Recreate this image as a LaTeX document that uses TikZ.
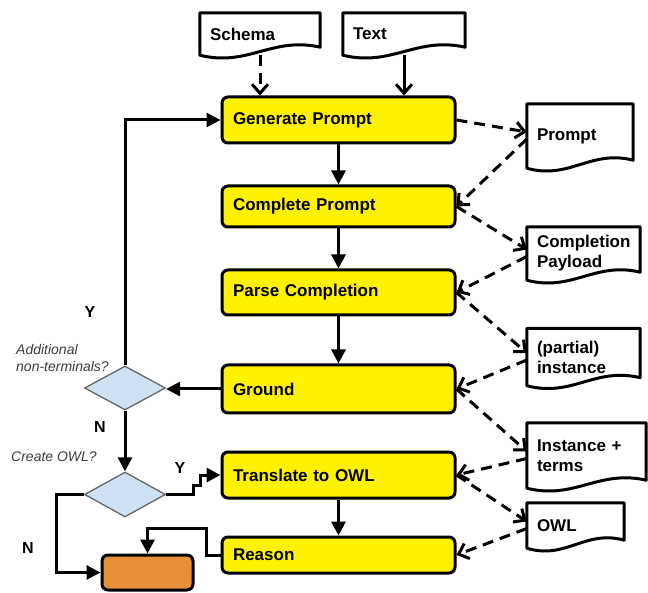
\documentclass[tikz,border=0pt]{standalone}
\usepackage{fontspec}
\setmainfont{Liberation Sans}
\usetikzlibrary{shapes.geometric,arrows.meta,calc}
\definecolor{decblue}{HTML}{CFE2F3}
\definecolor{endfill}{HTML}{E69138}
\definecolor{qgray}{HTML}{3C3C3C}
\newcommand\docout[1]{%
  \draw[docline] ($(#1.south east)+(0,-8)$) -- (#1.north east) -- (#1.north west) -- (#1.south west)
    .. controls ($(#1.south west)!0.4!(#1.south east)+(0,12)$) and ($(#1.south west)!0.6!(#1.south east)+(0,-19)$)
    .. ($(#1.south east)+(0,-8)$) -- cycle;}
\begin{document}
\begin{tikzpicture}[x=1pt,y=-1pt,
  proc/.style={draw, line width=3pt, rounded corners=6pt, fill=yellow, text width=211pt,
    inner xsep=11pt, inner ysep=0pt, align=left, font=\fontsize{17}{20}\selectfont\bfseries},
  doc/.style={inner xsep=10pt, inner ysep=0pt, align=left, font=\fontsize{17}{20}\selectfont\bfseries},
  docline/.style={line width=3pt, line join=round},
  dec/.style={diamond, draw=black!60, line width=1.3pt, fill=decblue, inner sep=0pt,
    minimum width=81pt, minimum height=44pt},
  flow/.style={line width=3pt, -{Triangle[length=14pt,width=14pt]}},
  dflow/.style={line width=3pt, dash pattern=on 11pt off 7pt, -{Straight Barb[length=9pt,width=16pt]}},
  sflow/.style={line width=3pt, -{Straight Barb[length=9pt,width=16pt]}},
  ylab/.style={font=\fontsize{16}{19}\selectfont\bfseries},
  qlab/.style={font=\fontsize{14}{17}\selectfont\itshape, text=qgray, align=left, anchor=west, inner sep=0pt}]
\useasboundingbox (0,0) rectangle (648,593);

% documents
\node[doc, minimum height=42pt, text width=100pt] (schema) at (260,34) {Schema};
\node[doc, minimum height=42pt, text width=102pt] (text) at (404,34) {Text};
\node[doc, minimum height=64pt, text width=86pt] (prompt) at (580,136) {Prompt};
\node[doc, minimum height=53pt, text width=93pt] (payload) at (583.5,253.5) {Completion\\Payload};
\node[doc, minimum height=57pt, text width=93pt] (partial) at (583.5,357) {(partial)\\instance};
\node[doc, minimum height=65pt, text width=99pt] (terms) at (586.5,455.5) {Instance +\\terms};
\node[doc, minimum height=45pt, text width=77pt] (owl) at (575.5,525.5) {OWL};
\docout{schema}\docout{text}\docout{prompt}\docout{payload}\docout{partial}\docout{terms}\docout{owl}

% process boxes
\node[proc, minimum height=46pt] (gen) at (338.5,120) {Generate Prompt};
\node[proc, minimum height=41pt] (complete) at (338.5,206.5) {Complete Prompt};
\node[proc, minimum height=45pt] (parse) at (338.5,292.5) {Parse Completion};
\node[proc, minimum height=48pt] (ground) at (338.5,389) {Ground};
\node[proc, minimum height=46pt] (trans) at (338.5,475) {Translate to OWL};
\node[proc, minimum height=36pt] (reason) at (338.5,555) {Reason};

% decisions and end
\node[dec] (d1) at (125,388) {};
\node[dec, minimum height=45pt] (d2) at (125,494.5) {};
\node[draw, line width=3pt, rounded corners=6pt, fill=endfill, minimum width=91pt, minimum height=35pt, inner sep=0pt] (end) at (147.5,572.5) {};

% inputs
\draw[dflow] (schema.south) -- (schema.south |- gen.north);
\draw[sflow] (text.south) -- (text.south |- gen.north);

% main flow
\draw[flow] (gen) -- (complete);
\draw[flow] (complete) -- (parse);
\draw[flow] (parse) -- (ground);
\draw[flow] (trans) -- (reason);
\draw[flow] (ground.west) -- (ground.west -| d1.east);
\draw[flow] (d1.north) |- (gen.west);
\draw[flow] (d1) -- (d2);
\draw[flow] (d2.east) -- ++(27,0) -- ++(0,-9) -- ++(7,0) |- (trans.west);
\draw[flow] (d2.west) -- ++(-27,0) |- (end.west);
\draw[flow] (reason.west) -- ++(-14,0) -- ++(0,-27) -| (end.north);

% artefacts
\draw[dflow] (gen.east) -- ([yshift=4pt]prompt.west);
\draw[dflow] ([yshift=-3pt]prompt.west) -- (complete.east);
\draw[dflow] (complete.east) -- ([yshift=4pt]payload.west);
\draw[dflow] ([yshift=-3pt]payload.west) -- (parse.east);
\draw[dflow] (parse.east) -- ([yshift=4pt]partial.west);
\draw[dflow] ([yshift=-3pt]partial.west) -- (ground.east);
\draw[dflow] (ground.east) -- ([yshift=4pt]terms.west);
\draw[dflow] ([yshift=-3pt]terms.west) -- (trans.east);
\draw[dflow] (trans.east) -- ([yshift=4pt]owl.west);
\draw[dflow] ([yshift=-3pt]owl.west) -- (reason.east);

% labels
\node[ylab] (y1) at (90,312) {Y};
\node[qlab] (q1) at (16,357.5) {Additional\\non-terminals?};
\node[ylab] (n1) at (100,427) {N};
\node[qlab] (q2) at (11,457) {Create OWL?};
\node[ylab] (y2) at (180,468) {Y};
\node[ylab] (n2) at (28,548) {N};
\end{tikzpicture}
\end{document}
